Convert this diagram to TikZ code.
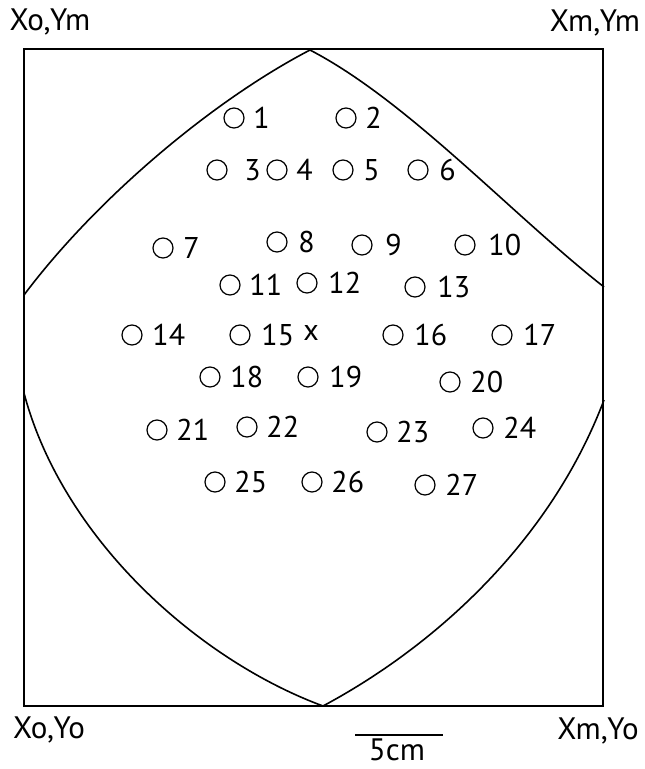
\documentclass[tikz,border=0pt]{standalone}
\usepackage{fontspec}
\setmainfont{PT Sans}
\usetikzlibrary{positioning}

\begin{document}
\begin{tikzpicture}[x=1pt, y=-1pt, line width=1.6pt]
        \tikzset{
            hole/.style={draw, circle, minimum size=20pt, inner sep=0pt, line width=1.2pt},
            num/.style={font=\fontsize{30}{34}\selectfont, inner sep=0pt},
            corner/.style={font=\fontsize{31}{35}\selectfont, inner sep=0pt},
        }
        \useasboundingbox (0,0) rectangle (645,769);

        % Frame
        \draw[line width=2.6pt] (24,49) rectangle (603,706);
        \node[corner] (xoym) at (50,22) {Xo,Ym};
        \node[corner] (xmym) at (595,23) {Xm,Ym};
        \node[corner] (xoyo) at (49,730) {Xo,Yo};
        \node[corner] (xmyo) at (598,731) {Xm,Yo};

        % Outline of the cross section
        \coordinate (Top) at (310,50);
        \coordinate (Bot) at (323,706);
        \coordinate (UL) at (24,295);
        \coordinate (UR) at (604,287);
        \coordinate (LL) at (24,393);
        \coordinate (LR) at (604,400);
        \draw (UL) .. controls (96,199) and (212,101) .. (Top);
        \draw (Top) .. controls (408,101) and (510,213) .. (UR);
        \draw (LL) .. controls (62,537) and (196,659) .. (Bot);
        \draw (LR) .. controls (551,540) and (437,645) .. (Bot);

        % Sampling points
        \foreach \n/\x/\y/\gap in {1/234/118/8, 2/346/118/8, 3/217/170/16, 4/277/170/8,
                5/343/170/9, 6/418/170/10, 7/163/248/9, 8/277/242/10, 9/362/245/12,
                10/465/245/12, 11/230/285/8, 12/307/283/10, 13/415/287/11,
                14/132/335/9, 15/240/335/10, 16/393/335/10, 17/502/335/10,
                18/210/377/9, 19/308/377/10, 20/450/382/9,
                21/157/430/8, 22/247/427/8, 23/377/432/8, 24/483/428/9,
                25/215/482/8, 26/312/482/8, 27/425/485/9} {
            \node[hole] (c\n) at (\x,\y) {};
            \node[num, right=\gap pt of c\n] (l\n) {\n};
        }
        \node[num] (centre) at (311,333) {x};

        % Scale bar
        \coordinate (S1) at (355,735);
        \coordinate (S2) at (443,735);
        \draw (S1) -- (S2);
        \node[corner] (scale) at (397,750) {5cm};

    \end{tikzpicture}
\end{document}
